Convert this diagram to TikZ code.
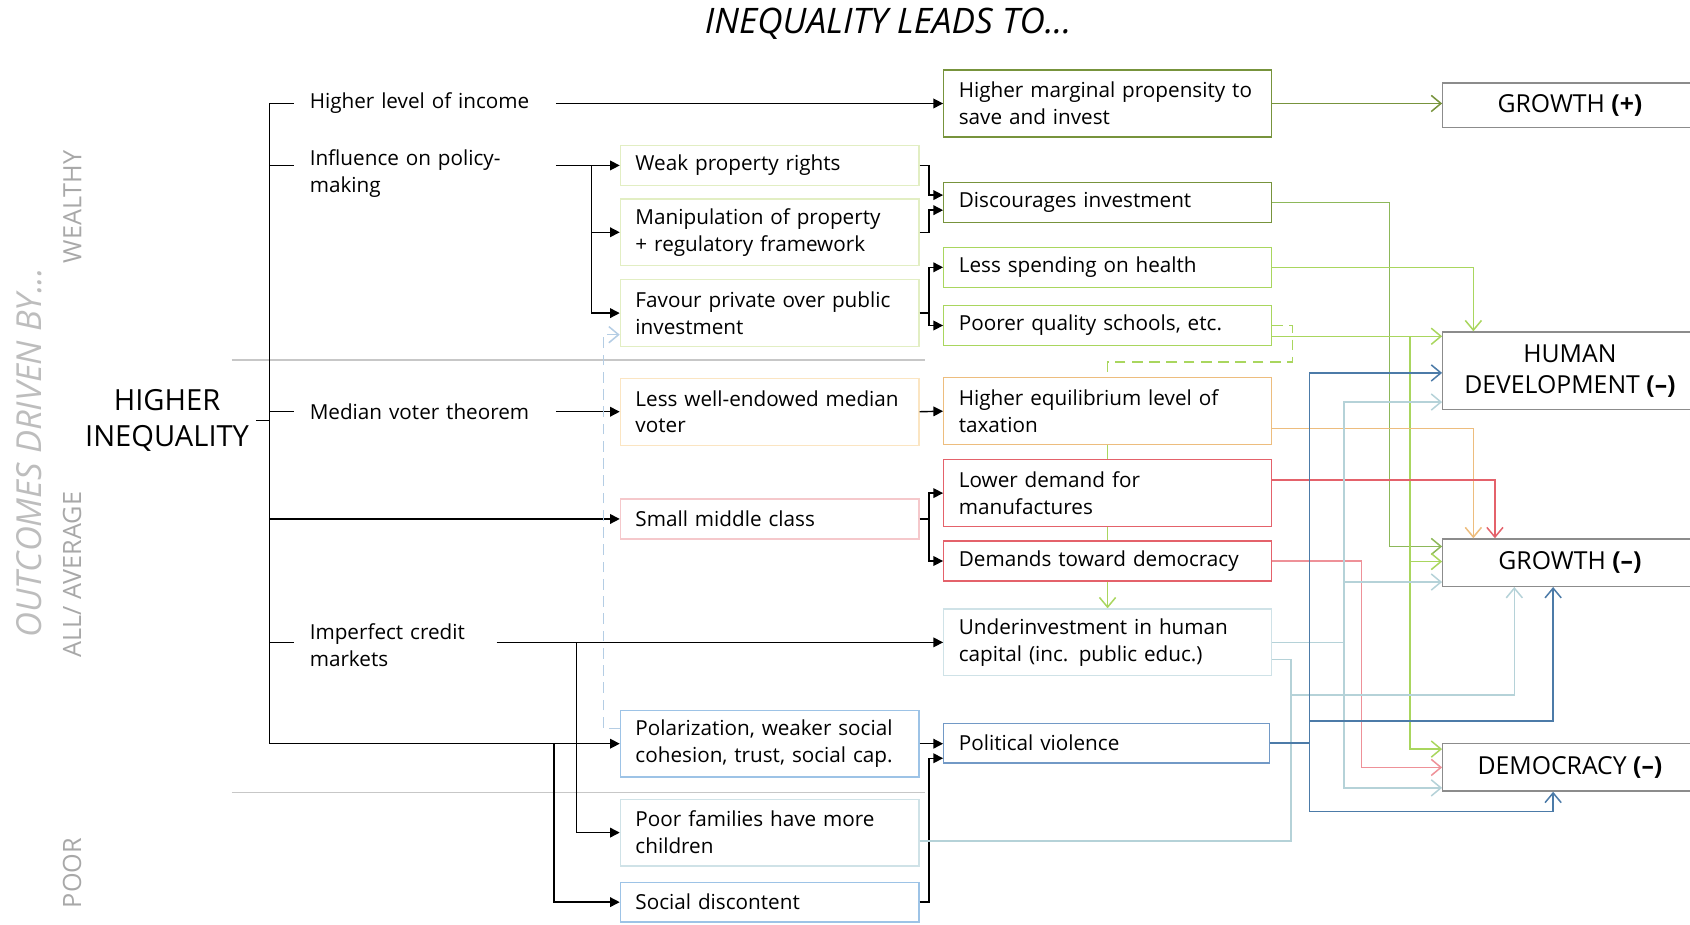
\documentclass[tikz,border=0pt]{standalone}
\usepackage{fontspec}
\setmainfont{Open Sans}
\usetikzlibrary{positioning,arrows.meta,backgrounds}

\definecolor{gOlive}{HTML}{77933C}
\definecolor{gMid}{HTML}{8DB85A}
\definecolor{gLight}{HTML}{A9D65E}
\definecolor{gPale}{HTML}{E2EEC3}
\definecolor{oPale}{HTML}{FBE5C2}
\definecolor{oLine}{HTML}{EDBD7E}
\definecolor{rPale}{HTML}{F5C8CB}
\definecolor{rLine}{HTML}{E4626B}
\definecolor{rSoft}{HTML}{EE9198}
\definecolor{bSky}{HTML}{9DC3E6}
\definecolor{bMist}{HTML}{CFE2E7}
\definecolor{bMistLine}{HTML}{B5D2D8}
\definecolor{bSteel}{HTML}{4C7BA8}
\definecolor{bSteelBox}{HTML}{7299C6}
\definecolor{bDash}{HTML}{B4CDE4}
\definecolor{outGray}{HTML}{8C8C8C}
\definecolor{sideGray}{HTML}{A8A8A8}
\definecolor{sideLight}{HTML}{BDBDBD}

\newcommand{\boxfont}{\fontsize{9.6}{12.5}\selectfont}
\newcommand{\outfont}{\fontsize{11.5}{14.5}\selectfont}
\newcommand{\hifont}{\fontsize{13.5}{16.5}\selectfont}
\newcommand{\titlefont}{\fontsize{16.3}{19}\selectfont\itshape}
\newcommand{\sidefont}{\fontsize{11.7}{14}\selectfont}
\newcommand{\drivenfont}{\fontsize{16}{19}\selectfont\itshape}

\begin{document}
\begin{tikzpicture}[x=0.5pt,y=-0.5pt]
        \tikzstyle{midbox}=[draw, fill=white, line width=0.6pt, anchor=west, text width=124.5pt, inner xsep=7pt, inner ysep=0pt, align=left, font=\boxfont]
        \tikzstyle{resbox}=[midbox, text width=138pt]
        \tikzstyle{oneline}=[minimum height=18.5pt]
        \tikzstyle{twoline}=[minimum height=31pt]
        \tikzstyle{outbox}=[draw=outGray, fill=white, line width=0.6pt, anchor=west, minimum width=118pt, inner ysep=0pt, align=center, font=\outfont]
        \tikzstyle{branch}=[anchor=west, text width=107pt, inner xsep=7pt, align=left, font=\boxfont]
        \tikzstyle{blk}=[line width=0.65pt, -{Triangle[length=4.5pt,width=4.5pt]}]
        \tikzstyle{plainline}=[line width=0.7pt]
        \tikzstyle{arrowline}=[plainline, -{Straight Barb[length=4.5pt,width=7.5pt]}]
        \tikzstyle{sidelabel}=[rotate=90, text=sideGray, font=\sidefont]
        \tikzstyle{sepline}=[draw=black!22, line width=0.5pt]

        \useasboundingbox (0,0) rectangle (1568,858);
        \clip (0,0) rectangle (1568,858);

        \node[font=\titlefont] (title) at (824,22) {INEQUALITY LEADS TO...};

        \node[sidelabel, text=sideLight, font=\drivenfont] (driven) at (27,420) {OUTCOMES DRIVEN BY...};
        \node[sidelabel] (wealthy) at (67,192) {WEALTHY};
        \node[sidelabel] (average) at (67,533) {ALL/ AVERAGE};
        \node[sidelabel] (poor) at (67,810) {POOR};

        \draw[sepline] (215,334) -- (858,334);
        \draw[sepline] (215,735) -- (858,735);

        \node[align=center, font=\hifont, inner xsep=3pt] (hi) at (155,390) {HIGHER\\INEQUALITY};

        \node[branch] (lvl) at (273,96) {Higher level of income};
        \node[branch] (infl) at (273,161) {Influence on policy-\\making};
        \node[branch] (med) at (273,382) {Median voter theorem};
        \node[branch, text width=79.5pt] (cred) at (273,599) {Imperfect credit\\markets};

        \node[midbox, oneline, draw=gPale] (weak) at (575,153.5) {Weak property rights};
        \node[midbox, twoline, draw=gPale] (manip) at (575,215.5) {Manipulation of property\\+ regulatory framework};
        \node[midbox, twoline, draw=gPale] (favour) at (575,290.5) {Favour private over public\\investment};
        \node[midbox, twoline, draw=oPale] (lesswell) at (575,382) {Less well-endowed median\\voter};
        \node[midbox, oneline, draw=rPale] (smallmid) at (575,481.5) {Small middle class};
        \node[midbox, twoline, draw=bSky] (polar) at (575,690) {Polarization, weaker social\\cohesion, trust, social cap.};
        \node[midbox, twoline, draw=bMist] (poorfam) at (575,772.5) {Poor families have more\\children};
        \node[midbox, oneline, draw=bSky] (discont) at (575,837) {Social discontent};

        \node[resbox, twoline, draw=gOlive] (margprop) at (875,96) {Higher marginal propensity to\\save and invest};
        \node[resbox, oneline, draw=gOlive] (discour) at (875,188) {Discourages investment};
        \node[resbox, oneline, draw=gLight] (health) at (875,248) {Less spending on health};
        \node[resbox, oneline, draw=gLight] (schools) at (875,302) {Poorer quality schools, etc.};
        \node[resbox, twoline, draw=oLine] (taxation) at (875,381.5) {Higher equilibrium level of\\taxation};
        \node[resbox, twoline, draw=rLine] (lowdem) at (875,457.5) {Lower demand for\\manufactures};
        \node[resbox, oneline, draw=rLine] (demdem) at (875,520.5) {Demands toward democracy};
        \node[resbox, twoline, draw=bMist] (underinv) at (875,596) {Underinvestment in human\\capital (inc. public educ.)};
        \node[resbox, oneline, draw=bSteelBox, text width=137pt] (polviol) at (875,689.5) {Political violence};

        \node[outbox, minimum height=20.5pt] (growthp) at (1338,97.5) {GROWTH \textbf{(+)}};
        \node[outbox, minimum height=36pt] (humdev) at (1338,344) {HUMAN\\DEVELOPMENT \textbf{(--)}};
        \node[outbox, minimum height=22pt] (growthm) at (1338,522) {GROWTH \textbf{(--)}};
        \node[outbox, minimum height=22pt] (democ) at (1338,712) {DEMOCRACY \textbf{(--)}};

        \coordinate (brk) at (250,0);
        \coordinate (infsplit) at (549,0);
        \coordinate (credsplit) at (535,0);
        \coordinate (polsplit) at (514,0);
        \coordinate (mj) at (862,0);
        \coordinate (cpoor) at (1198,645);
        \coordinate (cviol) at (1215,669);
        \coordinate (cviolb) at (1215,753);
        \coordinate (cunder) at (1247,0);
        \coordinate (cdemo) at (1263,0);
        \coordinate (cdisc) at (1289,0);
        \coordinate (cschool) at (1308,0);
        \coordinate (chealth) at (1367,0);
        \coordinate (clow) at (1387,0);
        \coordinate (cup) at (1405,0);
        \coordinate (cblue) at (1441,0);

        \coordinate (hdA) at ([yshift=-1pt]humdev.west);
        \coordinate (hdB) at ([yshift=-14.5pt]humdev.west);
        \coordinate (gmA) at ([yshift=7.5pt]growthm.west);
        \coordinate (gmB) at ([yshift=0.5pt]growthm.west);
        \coordinate (gmC) at ([yshift=-9pt]growthm.west);
        \coordinate (dmA) at ([yshift=8.5pt]democ.west);
        \coordinate (dmC) at ([yshift=-9.5pt]democ.west);
        \coordinate (sx) at ([yshift=-5pt]schools.east);

        \draw[line width=0.65pt] (hi.east) -- (hi.east -| brk);
        \draw[line width=0.65pt] (brk |- lvl.west) -- (brk |- polar.west);
        \draw[line width=0.65pt] (brk |- lvl.west) -- (lvl.west);
        \draw[blk] (lvl.east) -- (margprop.west);
        \draw[line width=0.65pt] (brk |- weak.west) -- (infl.west |- weak.west);
        \draw[blk] (infl.east |- weak.west) -- (weak.west);
        \draw[blk] (infsplit |- weak.west) |- (manip.west);
        \draw[blk] (infsplit |- weak.west) |- (favour.west);
        \draw[line width=0.65pt] (brk |- med.west) -- (med.west);
        \draw[blk] (med.east) -- (lesswell.west);
        \draw[blk] (brk |- smallmid.west) -- (smallmid.west);
        \draw[line width=0.65pt] (brk |- underinv.west) -- (cred.west |- underinv.west);
        \draw[blk] (cred.east |- underinv.west) -- (underinv.west);
        \draw[blk] (credsplit |- underinv.west) |- (poorfam.west);
        \draw[blk] (brk |- polar.west) -- (polar.west);
        \draw[blk] (polsplit |- polar.west) |- (discont.west);

        \draw[arrowline, draw=bDash, dash pattern=on 5pt off 3pt] ([yshift=7pt]polar.west) -- ++(-15,0) |- ([yshift=-10pt]favour.west);

        \draw[blk] (weak.east) -- (weak.east -| mj) |- ([yshift=3.5pt]discour.west);
        \draw[blk] (manip.east) -- (manip.east -| mj) |- ([yshift=-3.5pt]discour.west);
        \draw[blk] (favour.east) -- (favour.east -| mj) |- (health.west);
        \draw[blk] (favour.east -| mj) |- (schools.west);
        \draw[blk] (lesswell.east) -- (taxation.west);
        \draw[blk] (smallmid.east) -- (smallmid.east -| mj) |- (lowdem.west);
        \draw[blk] (smallmid.east -| mj) |- (demdem.west);
        \draw[blk] (polar.east) -- (polar.east -| polviol.west);
        \draw[blk] (discont.east) -- (discont.east -| mj) |- ([yshift=-7pt]polviol.west);

        \draw[plainline, draw=gLight, dash pattern=on 5pt off 3pt] (schools.east) -- ++(19,0) -- ++(0,34) -| (taxation.north);
        \begin{scope}[on background layer]
        \draw[arrowline, draw=gLight] (taxation.south) -- (underinv.north);
        \end{scope}

        \draw[arrowline, draw=gOlive] (margprop.east) -- (margprop.east -| growthp.west);
        \draw[arrowline, draw=gMid] (discour.east) -| (cdisc |- gmA) -- (gmA);
        \draw[arrowline, draw=gLight] (health.east) -| (chealth |- humdev.north);
        \draw[arrowline, draw=gLight] (sx) -- (sx -| humdev.west);
        \draw[arrowline, draw=gLight] (sx -| cschool) |- (gmB);
        \draw[arrowline, draw=gLight] (sx -| cschool) |- (dmA);
        \draw[arrowline, draw=oLine] ([yshift=-8pt]taxation.east) -| (chealth |- growthm.north);
        \draw[arrowline, draw=rLine] ([yshift=6pt]lowdem.east) -| (clow |- growthm.north);
        \draw[arrowline, draw=rSoft] (demdem.east) -| (cdemo |- democ.west) -- (democ.west);
        \draw[arrowline, draw=bMistLine] (underinv.east) -| (cunder |- hdB) -- (hdB);
        \draw[arrowline, draw=bMistLine] (underinv.east -| cunder) |- (gmC);
        \draw[arrowline, draw=bMistLine] (underinv.east -| cunder) |- (dmC);
        \draw[plainline, draw=bMistLine] ([yshift=-8pt]underinv.east) -| (cpoor);
        \draw[arrowline, draw=bMistLine] ([yshift=-4pt]poorfam.east) -| (cpoor) -| (cup |- growthm.south);

        \draw[plainline, draw=bSteel] (polviol.east) -- (polviol.east -| cviol);
        \draw[arrowline, draw=bSteel] (cviolb) |- (hdA);
        \draw[arrowline, draw=bSteel] (cviol) -| (cblue |- growthm.south);
        \draw[arrowline, draw=bSteel] (cviolb) -| (cblue |- democ.south);
\end{tikzpicture}
\end{document}
